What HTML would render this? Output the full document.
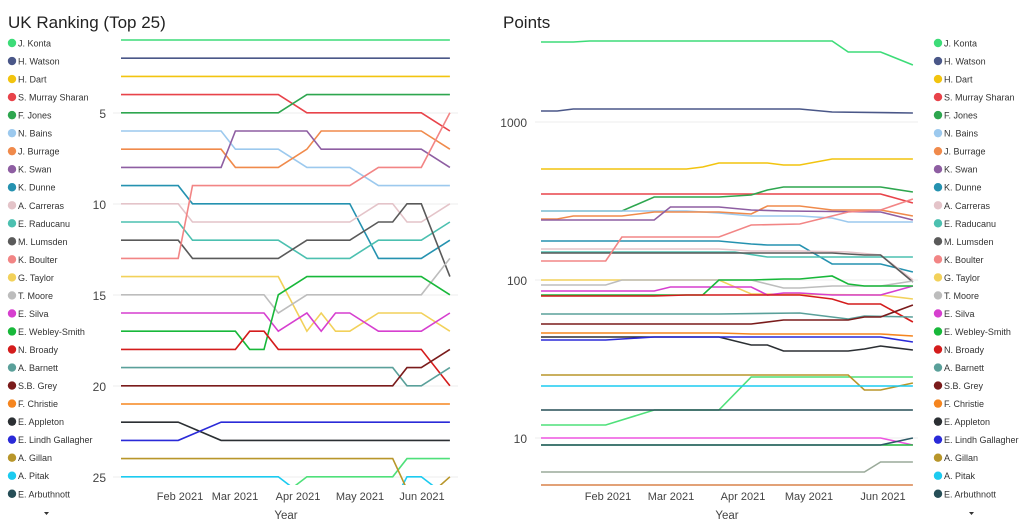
<!DOCTYPE html>
<html><head><meta charset="utf-8">
<style>
html,body{margin:0;padding:0;background:#fff;width:1024px;height:524px;overflow:hidden;font-family:"Segoe UI","Liberation Sans",sans-serif;}
svg{position:absolute;left:0;top:0}
</style></head>
<body>
<svg id="s" width="1024" height="524" xmlns="http://www.w3.org/2000/svg">
<text x="8" y="28" font-size="17" fill="#222">UK Ranking (Top 25)</text>
<text x="503" y="28" font-size="17" fill="#222">Points</text>
<g font-size="11" fill="#444" text-anchor="middle">
<text x="180" y="500">Feb 2021</text><text x="235" y="500">Mar 2021</text><text x="298" y="500">Apr 2021</text><text x="360" y="500">May 2021</text><text x="422" y="500">Jun 2021</text>
<text x="608" y="500">Feb 2021</text><text x="671" y="500">Mar 2021</text><text x="743" y="500">Apr 2021</text><text x="809" y="500">May 2021</text><text x="883" y="500">Jun 2021</text>
<text x="286" y="519" font-size="11.5">Year</text><text x="727" y="519" font-size="11.5">Year</text>
</g>
<g font-size="12" fill="#444" text-anchor="end">
<text x="106" y="118">5</text><text x="106" y="209">10</text><text x="106" y="300">15</text><text x="106" y="391">20</text><text x="106" y="482">25</text>
<text x="527" y="127">1000</text><text x="527" y="285">100</text><text x="527" y="443">10</text>
</g>
<g stroke="#eee" stroke-width="1">
<line x1="113" x2="458" y1="113" y2="113"/><line x1="113" x2="458" y1="204" y2="204"/><line x1="113" x2="458" y1="295" y2="295"/><line x1="113" x2="458" y1="386" y2="386"/><line x1="113" x2="458" y1="477" y2="477"/>
<line x1="535" x2="918" y1="122" y2="122"/><line x1="535" x2="918" y1="280" y2="280"/><line x1="535" x2="918" y1="438" y2="438"/>
</g>
<path d="M44 512 l5 0 l-2.5 3z M969 512 l5 0 l-2.5 3z" fill="#333"/>
<defs><clipPath id="cl"><rect x="100" y="30" width="370" height="455"/></clipPath></defs>
<g id="L" fill="none" stroke-width="1.6" clip-path="url(#cl)"></g>
<g id="R" fill="none" stroke-width="1.6"></g>
<g id="LG" font-size="9" fill="#333"></g>
</svg>
<script>
var names=["J. Konta","H. Watson","H. Dart","S. Murray Sharan","F. Jones","N. Bains","J. Burrage","K. Swan","K. Dunne","A. Carreras","E. Raducanu","M. Lumsden","K. Boulter","G. Taylor","T. Moore","E. Silva","E. Webley-Smith","N. Broady","A. Barnett","S.B. Grey","F. Christie","E. Appleton","E. Lindh Gallagher","A. Gillan","A. Pitak","E. Arbuthnott"];
var cols=["#3ddc78","#4a5788","#f2c40f","#e8434a","#2ea64f","#9cc9ee","#f08a4b","#8e5ea2","#2592b0","#e4c4c9","#4cc0b0","#5a5a5a","#f28585","#f2d15a","#bdbdbd","#d63fcf","#18b83a","#d41c1c","#5aa09a","#7a1b1b","#f5851f","#2b2f33","#2a2ad8","#b8962a","#1ccbf0","#264e57"];
var Ld=[
[[0,1],[23,1]],[[0,2],[23,2]],[[0,3],[23,3]],
[[0,4],[11,4],[13,5],[21,5],[23,6]],
[[0,5],[11,5],[13,4],[23,4]],
[[0,6],[7,6],[8,7],[11,7],[13,8],[16,8],[18,9],[23,9]],
[[0,7],[7,7],[8,8],[11,8],[13,7],[14,6],[21,6],[23,7]],
[[0,8],[7,8],[8,6],[13,6],[14,7],[21,7],[23,8]],
[[0,9],[4,9],[5,10],[16,10],[18,13],[21,13],[23,12]],
[[0,10],[4,10],[5,11],[16,11],[18,10],[19,10],[20,11],[21,11],[23,10]],
[[0,11],[4,11],[5,12],[11,12],[13,13],[16,13],[18,12],[21,12],[23,11]],
[[0,12],[4,12],[5,13],[11,13],[13,12],[16,12],[18,11],[19,11],[20,10],[21,10],[23,14]],
[[0,13],[4,13],[5,9],[16,9],[18,8],[21,8],[23,5]],
[[0,14],[11,14],[13,17],[14,16],[15,17],[16,17],[18,16],[21,16],[23,17]],
[[0,15],[10,15],[11,16],[13,15],[21,15],[23,13]],
[[0,16],[10,16],[11,17],[13,16],[14,17],[15,16],[16,16],[18,17],[21,17],[23,16]],
[[0,17],[8,17],[9,18],[10,18],[11,15],[13,14],[21,14],[23,15]],
[[0,18],[8,18],[9,17],[10,17],[11,18],[21,18],[23,20]],
[[0,19],[19,19],[20,20],[21,20],[23,19]],
[[0,20],[19,20],[20,19],[21,19],[23,18]],
[[0,21],[23,21]],
[[0,22],[4,22],[7,23],[23,23]],
[[0,23],[4,23],[7,22],[23,22]],
[[0,24],[19,24],[20,25.7],[22,25.7],[23,25]],
[[0,25],[11,25],[12,25.6]]
];
var extraL=[["#4fe07a",[[12,25.6],[13,25],[19,25],[20,24],[23,24]]],["#1ccbf0",[[19.6,25.6],[20,25],[21,25],[22,25.6]]]];
var Rd=[
[[0,42],[2,42],[3,41],[18,41],[19,52],[21,52],[23,65]],
[[0,111],[1,111],[2,109],[16,109],[18,112],[23,113]],
[[0,169],[9,169],[10,167],[11,163],[14,163],[15,165],[16,165],[18,159],[23,159]],
[[0,194],[21,194],[23,203]],
[[0,211],[5,211],[7,197],[11,197],[13,195],[14,190],[15,187],[21,187],[23,192]],
[[0,211],[9,211],[11,213],[13,216],[16,216],[18,218],[19,222],[23,222]],
[[0,219],[1,219],[2,216],[5,216],[7,212],[11,212],[13,214],[14,206],[16,206],[18,210],[21,210],[23,216]],
[[0,220],[7,220],[8,207],[11,207],[13,210],[15,211],[21,212],[23,220]],
[[0,241],[11,241],[13,244],[14,245],[16,245],[18,264],[21,264],[23,272]],
[[0,249],[11,249],[13,251],[16,251],[19,252],[21,255],[23,280]],
[[0,252],[12,252],[14,257],[23,257]],
[[0,253],[18,253],[20,255],[21,255],[23,282]],
[[0,261],[4,261],[5,237],[11,237],[13,225],[16,224],[19,212],[21,210],[23,199]],
[[0,280],[11,280],[13,294],[21,295],[23,299]],
[[0,285],[4,285],[5,280],[13,280],[15,288],[16,288],[18,286],[21,286],[23,281]],
[[0,291],[7,291],[8,287],[13,287],[14,295],[15,293],[16,293],[18,295],[21,295],[23,286]],
[[0,295],[10,295],[11,280],[13,280],[15,279],[16,279],[18,276],[19,284],[20,286],[23,286]],
[[0,296],[7,296],[9,295],[16,295],[18,299],[19,304],[21,304],[23,322]],
[[0,314],[11,314],[16,313],[19,319],[20,316],[23,317]],
[[0,324],[13,324],[15,320],[19,320],[20,317],[21,317],[23,305]],
[[0,333],[11,333],[13,334],[21,334],[23,336]],
[[0,337],[11,337],[13,345],[14,345],[15,351],[19,351],[20,349],[21,346],[23,350]],
[[0,340],[4,340],[7,337],[21,337],[23,342]],
[[0,375],[19,375],[20,390],[21,390],[23,383]],
[[0,386],[23,386]],
[[0,410],[23,410]]
];
var extraR=[["#4fe07a",[[0,425],[4,425],[7,410],[11,410],[13,377],[23,377]]],["#ee55e0",[[0,438],[21,438],[23,445]]],["#1eb83c",[[0,445],[23,445]]],["#2d5a66",[[0,445],[21,445],[23,438]]],["#9aaa9a",[[0,472],[20,472],[21,462],[23,462]]],["#d9824a",[[0,485],[23,485]]]];
var NS="http://www.w3.org/2000/svg";
function pl(g,c,pts,fx,fy){var p=document.createElementNS(NS,"polyline");p.setAttribute("points",pts.map(function(q){return fx(q[0]).toFixed(1)+","+fy(q[1]).toFixed(1)}).join(" "));p.setAttribute("stroke",c);g.appendChild(p);}
var L=document.getElementById("L"),R=document.getElementById("R"),LG=document.getElementById("LG");
var lx=function(i){return 121+i*14.3},ly=function(r){return 40+(r-1)*18.2};
var rx=function(i){return 541+i*16.17},ry=function(v){return v};
extraL.forEach(function(e){pl(L,e[0],e[1],lx,ly)});
Ld.forEach(function(d,k){pl(L,cols[k],d,lx,ly)});
extraR.forEach(function(e){pl(R,e[0],e[1],rx,ry)});
Rd.forEach(function(d,k){pl(R,cols[k],d,rx,ry)});
names.forEach(function(n,k){var y=43+k*18.03;
[[12,18],[938,944]].forEach(function(a){var c=document.createElementNS(NS,"circle");c.setAttribute("cx",a[0]);c.setAttribute("cy",y);c.setAttribute("r",4.2);c.setAttribute("fill",cols[k]);LG.appendChild(c);
var t=document.createElementNS(NS,"text");t.setAttribute("x",a[1]);t.setAttribute("y",y+3.5);t.textContent=n;LG.appendChild(t);});});
</script>
</body></html>
